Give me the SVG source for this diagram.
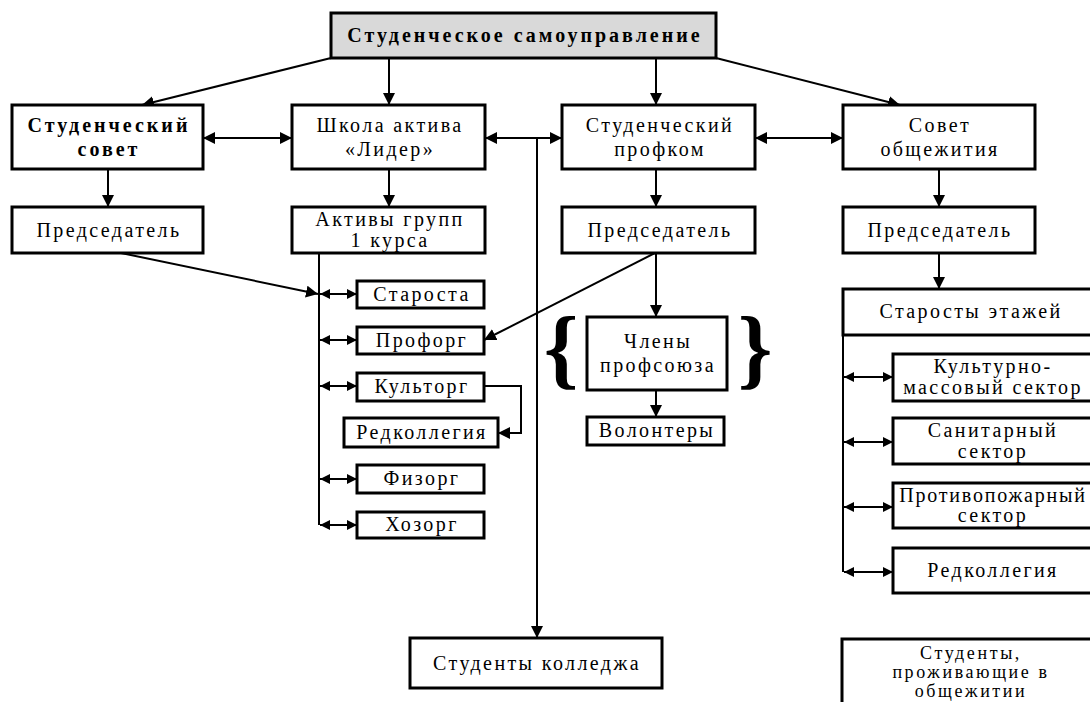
<svg xmlns="http://www.w3.org/2000/svg" width="1090" height="702" viewBox="0 0 1090 702">
<style>
.bx{fill:#fff;stroke:#000;stroke-width:3}
.gr{fill:#d9d9d9}
.t{font-family:"Liberation Serif","Times New Roman",serif;font-size:20px;letter-spacing:2.4px;text-anchor:middle;fill:#000}
.b{font-weight:bold;letter-spacing:3px}
.sm{font-size:18px;letter-spacing:2.6px}
.br{font-family:"Liberation Serif","Times New Roman",serif;font-size:88px;font-weight:bold;text-anchor:middle;fill:#000}
.c{fill:none;stroke:#000;stroke-width:2}
.a{marker-end:url(#ah)}
.d{marker-start:url(#ah);marker-end:url(#ah)}
.s{marker-start:url(#sh);marker-end:url(#sh)}
</style>
<defs>
<marker id="ah" markerUnits="userSpaceOnUse" viewBox="0 0 12 12" markerWidth="12" markerHeight="12" refX="12" refY="6" orient="auto-start-reverse"><path d="M0,0 L12,6 L0,12 z" fill="#000"/></marker>
<marker id="sh" markerUnits="userSpaceOnUse" viewBox="0 0 10 10" markerWidth="10" markerHeight="10" refX="10" refY="5" orient="auto-start-reverse"><path d="M0,0 L10,5 L0,10 z" fill="#000"/></marker>
</defs>
<rect width="1090" height="702" fill="#fff"/>
<g id="connectors">
<path class="c a" d="M331,58 L142,105"/>
<path class="c a" d="M389,58 V105"/>
<path class="c a" d="M656,58 V105"/>
<path class="c a" d="M716,58 L900,105"/>
<path class="c d" d="M203,138 H292"/>
<path class="c d" d="M485,138 H562"/>
<path class="c d" d="M755,138 H843"/>
<path class="c a" d="M537,138 V638"/>
<path class="c a" d="M108,169 V207"/>
<path class="c a" d="M389,169 V207"/>
<path class="c a" d="M656,169 V207"/>
<path class="c a" d="M939,169 V207"/>
<path class="c" d="M319,253 V525"/>
<path class="c a" d="M121,253 L318,294"/>
<path class="c s" d="M320,294 H357"/>
<path class="c s" d="M320,340 H357"/>
<path class="c s" d="M320,386 H357"/>
<path class="c s" d="M320,479 H357"/>
<path class="c s" d="M320,525 H357"/>
<path class="c a" d="M484,386 H521 V433 H498"/>
<path class="c a" d="M655,253 L484,340"/>
<path class="c a" d="M656,253 V317"/>
<path class="c a" d="M656,390 V417"/>
<path class="c a" d="M939,253 V289"/>
<path class="c" d="M843,335 V572"/>
<path class="c s" d="M844,377 H893"/>
<path class="c s" d="M844,442 H893"/>
<path class="c s" d="M844,507 H893"/>
<path class="c s" d="M844,572 H893"/>
</g>
<g id="n-top"><rect class="bx gr" x="331" y="13" width="385" height="45"/><text class="t b" x="525" y="42">Студенческое самоуправление</text></g>
<g id="n-sovet"><rect class="bx" x="12" y="105" width="191" height="64"/><text class="t b" x="109" y="132">Студенческий</text><text class="t b" x="109" y="156">совет</text></g>
<g id="n-shkola"><rect class="bx" x="292" y="105" width="193" height="64"/><text class="t" x="390" y="132">Школа актива</text><text class="t" x="390" y="156">«Лидер»</text></g>
<g id="n-profkom"><rect class="bx" x="562" y="105" width="193" height="64"/><text class="t" x="660" y="132">Студенческий</text><text class="t" x="660" y="156">профком</text></g>
<g id="n-obsh"><rect class="bx" x="843" y="105" width="192" height="64"/><text class="t" x="940" y="132">Совет</text><text class="t" x="940" y="156">общежития</text></g>
<g id="n-pred1"><rect class="bx" x="12" y="207" width="191" height="46"/><text class="t" x="109" y="237">Председатель</text></g>
<g id="n-aktivy"><rect class="bx" x="292" y="207" width="193" height="46"/><text class="t" x="390" y="226">Активы групп</text><text class="t" x="390" y="247">1 курса</text></g>
<g id="n-pred3"><rect class="bx" x="562" y="207" width="193" height="46"/><text class="t" x="660" y="237">Председатель</text></g>
<g id="n-pred4"><rect class="bx" x="843" y="207" width="192" height="46"/><text class="t" x="940" y="237">Председатель</text></g>
<g id="n-starosta"><rect class="bx" x="357" y="281" width="127" height="27"/><text class="t" x="422" y="301">Староста</text></g>
<g id="n-proforg"><rect class="bx" x="357" y="327" width="127" height="27"/><text class="t" x="422" y="347">Профорг</text></g>
<g id="n-kultorg"><rect class="bx" x="357" y="373" width="127" height="28"/><text class="t" x="422" y="393">Культорг</text></g>
<g id="n-redkol1"><rect class="bx" x="344" y="418" width="154" height="29"/><text class="t" x="422" y="439">Редколлегия</text></g>
<g id="n-fizorg"><rect class="bx" x="357" y="465" width="127" height="28"/><text class="t" x="422" y="485">Физорг</text></g>
<g id="n-hozorg"><rect class="bx" x="357" y="512" width="127" height="26"/><text class="t" x="422" y="531">Хозорг</text></g>
<g id="n-chleny"><rect class="bx" x="587" y="317" width="140" height="73"/><text class="t" x="658" y="348">Члены</text><text class="t" x="658" y="372">профсоюза</text><text class="br" x="561" y="378">{</text><text class="br" x="755" y="378">}</text></g>
<g id="n-volont"><rect class="bx" x="587" y="417" width="137" height="28"/><text class="t" x="657" y="437">Волонтеры</text></g>
<g id="n-starosty"><rect class="bx" x="843" y="289" width="260" height="46"/><text class="t" x="971" y="318">Старосты этажей</text></g>
<g id="n-kult"><rect class="bx" x="893" y="354" width="200" height="47"/><text class="t" x="993" y="373">Культурно-</text><text class="t" x="993" y="394">массовый сектор</text></g>
<g id="n-sanit"><rect class="bx" x="893" y="418" width="200" height="46"/><text class="t" x="993" y="437">Санитарный</text><text class="t" x="993" y="458">сектор</text></g>
<g id="n-protiv"><rect class="bx" x="893" y="483" width="200" height="45"/><text class="t" x="993" y="502" style="letter-spacing:1.8px">Противопожарный</text><text class="t" x="993" y="522">сектор</text></g>
<g id="n-redkol2"><rect class="bx" x="893" y="548" width="200" height="45"/><text class="t" x="993" y="577">Редколлегия</text></g>
<g id="n-studk"><rect class="bx" x="410" y="638" width="252" height="50"/><text class="t" x="537" y="670">Студенты колледжа</text></g>
<g id="n-studo"><rect class="bx" x="842" y="639" width="260" height="80"/><text class="t sm" x="971" y="659">Студенты,</text><text class="t sm" x="971" y="678">проживающие в</text><text class="t sm" x="971" y="697">общежитии</text></g>
</svg>
